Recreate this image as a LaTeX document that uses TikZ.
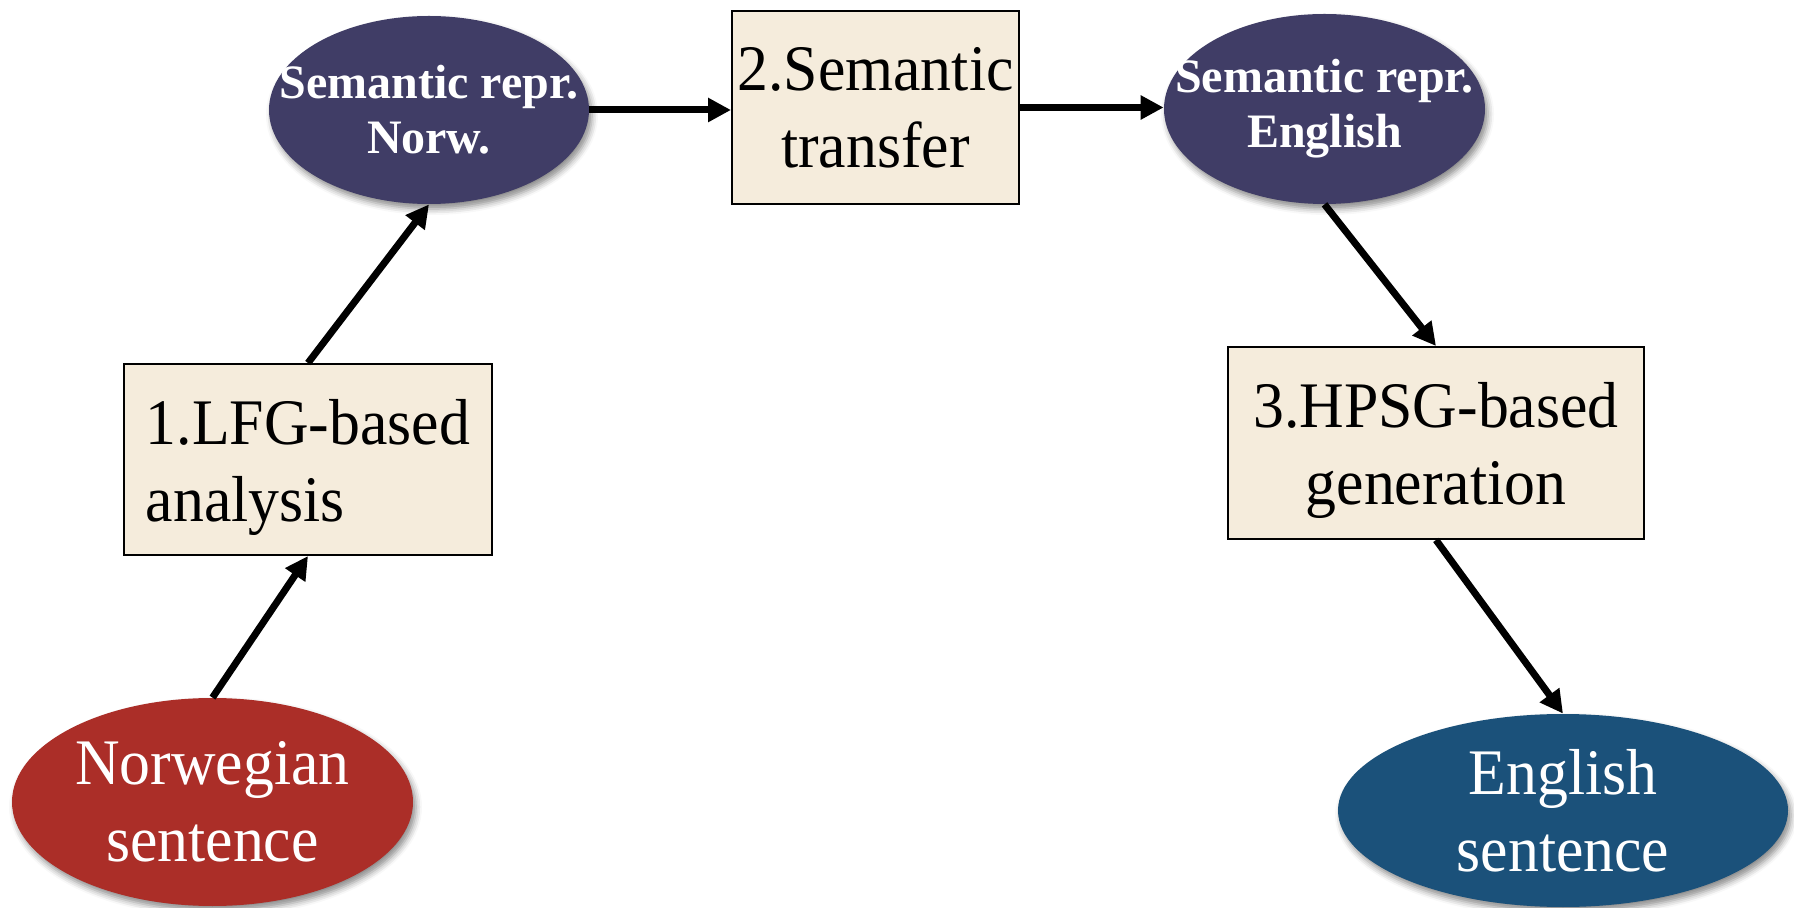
\documentclass[tikz,border=0pt]{standalone}
\usepackage{fontspec}
\setmainfont{Liberation Serif}
\newfontfamily\tallserif[FakeStretch=0.95]{Liberation Serif}
\usetikzlibrary{arrows.meta,shapes.geometric,shadows.blur}

\definecolor{semfill}{RGB}{64,61,102}
\definecolor{nofill}{RGB}{171,46,40}
\definecolor{enfill}{RGB}{27,81,122}
\definecolor{stepfill}{RGB}{245,236,220}

\newcommand{\lowered}[1]{\raisebox{-4pt}[\height][\depth]{#1}}

\tikzset{
  stepbox/.style={draw=black, line width=1pt, fill=stepfill, inner sep=0pt,
    align=center, font=\tallserif\fontsize{32.5}{38.5}\selectfont},
  oval/.style={ellipse, inner sep=0pt,
    blur shadow={shadow xshift=1.5pt, shadow yshift=-2.5pt,
      shadow blur radius=3pt, shadow opacity=45}},
  bigtext/.style={text=white, align=center,
    font=\tallserif\fontsize{32.5}{38.5}\selectfont},
  semtext/.style={text=white, align=center, inner sep=0pt,
    font=\fontsize{24}{27.5}\selectfont\bfseries},
  flow/.style={line width=3.5pt, -{Triangle[length=11.5pt,width=11.5pt]}},
}

\begin{document}
\begin{tikzpicture}[x=0.5pt,y=-0.5pt]
\useasboundingbox (0,0) rectangle (1794,908);

% processing steps
\node[stepbox, minimum width=184pt, minimum height=95.5pt] (b1) at (308,459.5)
  {\lowered{\begin{tabular}{@{}l@{}}1.LFG-based\\analysis\end{tabular}}};
\node[stepbox, minimum width=143.5pt, minimum height=96.5pt] (b2) at (875.5,107.5)
  {2.Semantic\\transfer};
\node[stepbox, minimum width=208pt, minimum height=96pt] (b3) at (1436,443)
  {\lowered{\begin{tabular}{@{}c@{}}3.HPSG-based\\generation\end{tabular}}};

% semantic representations
\node[oval, fill=semfill, minimum width=160pt, minimum height=94pt] (sn) at (429,110) {};
\node[semtext] (snt) at (sn.center) {Semantic repr.\\Norw.};
\node[oval, fill=semfill, minimum width=160.5pt, minimum height=95pt] (se) at (1324.5,109) {};
\node[semtext] (set) at (se.center) {Semantic repr.\\English};

% source and target sentences
\node[oval, fill=nofill, minimum width=200.5pt, minimum height=104pt] (ns) at (212.5,802) {};
\node[bigtext] (nst) at (ns.center) {Norwegian\\sentence};
\node[oval, fill=enfill, minimum width=225pt, minimum height=96.5pt] (es) at (1563,810.5) {};
\node[bigtext] (est) at (es.center) {English\\sentence};

% pipeline
\draw[flow] (ns.north) -- (b1.south);
\draw[flow] (b1.north) -- (sn.south);
\draw[flow] (sn.east) -- (sn.east -| b2.west);
\draw[flow] (b2.east) -- (b2.east -| se.west);
\draw[flow] (se.south) -- (b3.north);
\draw[flow] (b3.south) -- (es.north);
\end{tikzpicture}
\end{document}
